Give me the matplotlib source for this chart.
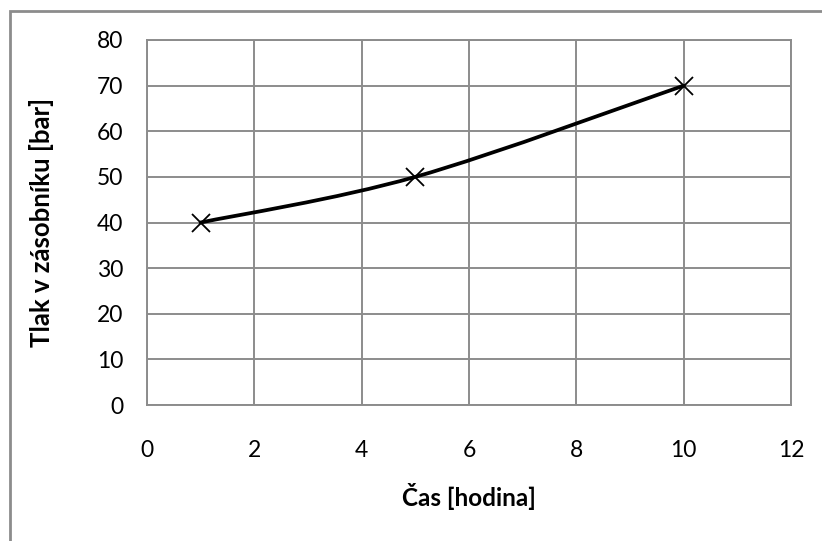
import matplotlib.pyplot as plt
from matplotlib.path import Path
from matplotlib.patches import PathPatch, Rectangle
import numpy as np

plt.rcParams['font.family'] = ['Lato', 'DejaVu Sans']

cas = [1, 5, 10]
tlak = [40, 50, 70]
xticks = [0, 2, 4, 6, 8, 10, 12]
yticks = [0, 10, 20, 30, 40, 50, 60, 70, 80]

fig = plt.figure(figsize=(8.22, 5.41), dpi=100)
ax = fig.add_axes([147/822, 1-405/541, (791-147)/822, (405-40)/541])

# smoothed line: cubic bezier through the points (catmull-rom style tangents)
pts = np.column_stack([cas, tlak]).astype(float)
ext = np.vstack([pts[0], pts, pts[-1]])
verts = [tuple(pts[0])]
codes = [Path.MOVETO]
for i in range(len(pts) - 1):
    p0, p1, p2, p3 = ext[i], ext[i+1], ext[i+2], ext[i+3]
    c1 = p1 + (p2 - p0) / 6
    c2 = p2 - (p3 - p1) / 6
    verts += [tuple(c1), tuple(c2), tuple(p2)]
    codes += [Path.CURVE4] * 3
ax.add_patch(PathPatch(Path(verts, codes), fill=False, lw=2.7, color='black', zorder=3, capstyle='round'))
ax.plot(cas, tlak, ls='none', marker='x', ms=13, mew=1.3, color='black', zorder=4)

ax.set_xlim(0, 12)
ax.set_ylim(0, 80)
ax.set_xticks(xticks)
ax.set_yticks(yticks)
ax.grid(True, color='#8c8c8c', lw=1.4)
ax.set_axisbelow(True)
for s in ax.spines.values():
    s.set_color('#8c8c8c')
    s.set_linewidth(1.4)
ax.tick_params(length=0, labelsize=16.5, colors='black')
ax.tick_params(axis='x', pad=25)
ax.tick_params(axis='y', pad=17)
ax.set_xlabel('Čas [hodina]', fontsize=17.5, fontweight='bold', labelpad=16)
ax.set_ylabel('Tlak v zásobníku [bar]', fontsize=18.5, fontweight='bold', labelpad=31)

# chart area frame
fig.patches.append(Rectangle((10/822, -0.1), 1.2, 1 - 11/541 + 0.1, transform=fig.transFigure,
                             fill=False, ec='#8c8c8c', lw=2))

fig.savefig('out.png', dpi=100)
